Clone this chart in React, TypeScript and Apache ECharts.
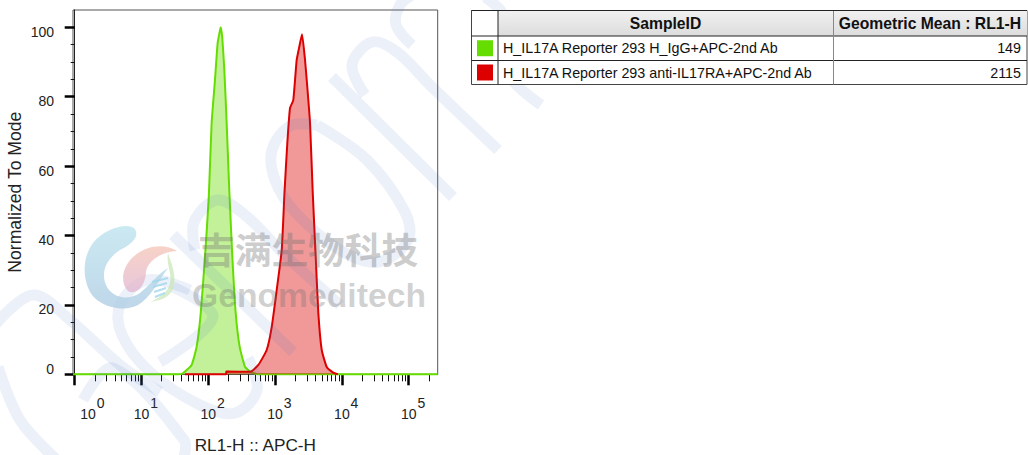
import React, { useEffect, useRef } from "react";
import * as echarts from "echarts";

// Histogram outlines: [log10 intensity, % of mode]
const igGData: [number, number][] = [
  [-0.025, 0], [1.55, 0], [1.62, 0.3], [1.75, 2.7], [1.826, 8], [1.886, 17.5], [1.95, 33.7], [2.007, 51], [2.05, 72.5],
  [2.1, 84.9], [2.14, 95.5], [2.175, 99.2], [2.186, 100], [2.21, 96.8], [2.24, 87.7], [2.275, 72.4], [2.314, 53.1],
  [2.36, 33.8], [2.41, 17.7], [2.47, 7.9], [2.55, 2.1], [2.64, 0.6], [2.72, 0.1], [2.8, 0], [5.434, 0],
];
const antiData: [number, number][] = [
  [1.65, 0], [2.265, 0], [2.27, 0.8], [2.624, 0.7], [2.749, 2.7], [2.874, 7], [2.949, 13.6], [3.024, 24.3], [3.099, 35.8],
  [3.14, 52.2], [3.183, 66.7], [3.223, 76.7], [3.272, 79], [3.323, 90.6], [3.362, 94.4], [3.403, 98], [3.448, 90.6],
  [3.482, 82.8], [3.523, 72.4], [3.563, 52.5], [3.608, 33.8], [3.647, 17.7], [3.698, 7], [3.773, 2.1], [3.871, 0.5], [3.94, 0],
];
const xMajorTicks = [0, 1, 2, 3, 4, 5];
const xLabelSlots = [0.2, 1, 2, 3, 4, 5];
const xMinorMultipliers = [2, 3, 4, 5, 6, 7, 8, 9];
const yMajorTicks = [0, 20, 40, 60, 80, 100];
const yMinorTicks = [5, 10, 15, 25, 30, 35, 45, 50, 55, 65, 70, 75, 85, 90, 95];
const sampleIds = ["H_IL17A Reporter 293 H_IgG+APC-2nd Ab", "H_IL17A Reporter 293 anti-IL17RA+APC-2nd Ab"];
const geoMeans = ["149", "2115"];
const sampleColors = ["#66dd00", "#dd0000"];

const FONT = "'Liberation Sans', Arial, sans-serif";
const xMinorTicks = [0, 1, 2, 3, 4, 5]
  .flatMap((d) => xMinorMultipliers.map((m) => d + Math.log10(m)))
  .filter((v) => v < 5.434);

const bandPaths: [number, number][][] = [
  [[173, 235], [293, 352]],
  [[332, 77], [453, 197]],
  [[365, 95], [352, 65], [372, 42], [397, 52], [430, 85], [498, 150]],
  [[412, 45], [396, 25], [400, 5], [412, -5]],
  [[485, -3], [503, 15], [505, 60], [512, 80], [541, 105]],
  [[317, 125], [367, 160], [405, 212], [408, 240], [378, 262], [340, 250], [295, 212], [275, 180], [272, 150], [290, 126], [317, 125]],
  [[195, 250], [194, 222], [217, 200], [245, 215], [285, 255], [340, 305]],
  [[190, 290], [147, 280], [120, 305], [122, 335], [150, 372], [200, 405], [235, 413], [257, 390], [248, 358]],
  [[173, 287], [213, 317], [160, 362]],
  [[-5, 325], [33, 295], [70, 320], [120, 365], [160, 392]],
  [[-2, 367], [20, 420], [57, 460]],
  [[83, 400], [113, 368], [184, 440], [183, 460]],
];

const crescent = "M135 229C128 222 105 228 93 243C82 258 82 280 92 295C102 308 125 312 138 305C150 298 158 282 168 268C160 272 150 285 140 293C128 301 112 298 106 285C100 270 108 258 120 250C130 245 140 238 135 229Z";
const drop = "M177 251C165 243 145 245 132 258C122 268 120 283 128 291C136 296 146 285 146 272C147 262 160 252 177 251Z";
const leaf = "M168 253C172 265 176 275 174 285C172 295 165 300 150 302C160 298 168 292 170 283C172 272 166 265 168 253Z";
echarts.graphic.registerShape("wmCrescent", echarts.graphic.extendPath(crescent, {}) as any);
echarts.graphic.registerShape("wmDrop", echarts.graphic.extendPath(drop, {}) as any);
echarts.graphic.registerShape("wmLeaf", echarts.graphic.extendPath(leaf, {}) as any);

function buildGraphic() {
  const els: any[] = [];
  bandPaths.forEach((points) => {
    els.push({
      type: "polyline", z: 50, silent: true,
      shape: { points, smooth: points.length > 2 ? 0.35 : 0 },
      style: { stroke: "rgba(70,110,200,0.105)", lineWidth: 11, fill: "none" },
    });
  });
  const grad = (a: string, b: string) => ({ type: "linear", x: 0, y: 0, x2: 0, y2: 1, colorStops: [{ offset: 0, color: a }, { offset: 1, color: b }] });
  els.push({ type: "wmCrescent", z: 51, silent: true, style: { fill: grad("rgba(190,228,238,0.8)", "rgba(175,205,228,0.8)") } });
  els.push({ type: "wmDrop", z: 51, silent: true, style: { fill: grad("rgba(245,195,180,0.75)", "rgba(225,180,208,0.75)") } });
  els.push({ type: "wmLeaf", z: 51, silent: true, style: { fill: "rgba(190,225,170,0.6)" } });
  [280, 285, 290, 295].forEach((y, i) => {
    els.push({ type: "line", z: 51, silent: true, shape: { x1: 152 + i, y1: y + 2, x2: 168 - i, y2: y - 2 }, style: { stroke: "rgba(160,215,235,0.8)", lineWidth: 2 } });
  });
  els.push({
    type: "text", z: 52, silent: true, x: 198, y: 248,
    style: { text: "吉满生物科技", fill: "rgba(110,110,110,0.36)", font: "bold 36.7px 'Noto Sans CJK SC'", textVerticalAlign: "middle" },
  });
  els.push({
    type: "text", z: 52, silent: true, x: 192, y: 295,
    style: { text: "Genomeditech", fill: "rgba(110,110,110,0.33)", font: `bold 33.7px ${FONT}`, textVerticalAlign: "middle" },
  });

  // Results table (opaque, above the watermark)
  const colX = [471.5, 498, 833.5, 1027];
  const rowY = [10.5, 36, 60.5, 84.5];
  const lineStyle = { stroke: "#222", lineWidth: 1 };
  els.push({ type: "rect", z: 60, silent: true, shape: { x: colX[0], y: rowY[0], width: colX[3] - colX[0], height: rowY[3] - rowY[0] }, style: { fill: "#fff", stroke: "#444", lineWidth: 1 } });
  els.push({ type: "rect", z: 60, silent: true, shape: { x: colX[1], y: rowY[0], width: colX[3] - colX[1], height: rowY[1] - rowY[0] }, style: { fill: grad("#f1f1f1", "#dcdcdc") } });
  rowY.slice(1, 3).forEach((y) => els.push({ type: "line", z: 61, silent: true, shape: { x1: colX[0], y1: y, x2: colX[3], y2: y }, style: lineStyle }));
  els.push({ type: "line", z: 61, silent: true, shape: { x1: colX[1], y1: rowY[0], x2: colX[1], y2: rowY[3] }, style: lineStyle });
  els.push({ type: "line", z: 61, silent: true, shape: { x1: colX[2], y1: rowY[0], x2: colX[2], y2: rowY[3] }, style: { stroke: "#888", lineWidth: 1 } });
  els.push({ type: "line", z: 61, silent: true, shape: { x1: colX[0], y1: rowY[0], x2: colX[3], y2: rowY[0] }, style: lineStyle });
  els.push({ type: "text", z: 62, silent: true, x: 665.5, y: 23.5, style: { text: "SampleID", fill: "#111", font: `bold 15.7px ${FONT}`, textAlign: "center", textVerticalAlign: "middle" } });
  els.push({ type: "text", z: 62, silent: true, x: 1021, y: 23.5, style: { text: "Geometric Mean : RL1-H", fill: "#111", font: `bold 15.7px ${FONT}`, textAlign: "right", textVerticalAlign: "middle" } });
  sampleIds.forEach((id, i) => {
    const cy = (rowY[i + 1] + rowY[i + 2]) / 2;
    els.push({ type: "rect", z: 62, silent: true, shape: { x: 477, y: cy - 8, width: 16, height: 16 }, style: { fill: sampleColors[i] } });
    els.push({ type: "text", z: 62, silent: true, x: 503, y: cy, style: { text: id, fill: "#111", font: `14.3px ${FONT}`, textVerticalAlign: "middle" } });
    els.push({ type: "text", z: 62, silent: true, x: 1021, y: cy, style: { text: geoMeans[i], fill: "#111", font: `14.3px ${FONT}`, textAlign: "right", textVerticalAlign: "middle" } });
  });
  return els;
}

export default function App() {
  const ref = useRef<HTMLDivElement>(null);
  useEffect(() => {
    const chart = echarts.init(ref.current!, null, { renderer: "svg" });
    const baseX = { type: "value", min: -0.0254, max: 5.434, position: "bottom", splitLine: { show: false } };
    const baseY = { type: "value", min: 0, max: 105, position: "left", splitLine: { show: false } };
    chart.setOption({
      animation: false,
      backgroundColor: "#fff",
      textStyle: { fontFamily: FONT },
      grid: { left: 73, right: 590.3, top: 10, bottom: 80.7, show: true, borderColor: "#555", borderWidth: 1, backgroundColor: "transparent", outerBoundsMode: "none" },
      xAxis: [
        {
          ...baseX,
          name: "RL1-H :: APC-H", nameLocation: "middle", nameGap: 62,
          nameTextStyle: { fontFamily: FONT, fontSize: 17.2, color: "#222" },
          axisLine: { show: true, lineStyle: { color: "#555", width: 1 } },
          axisTick: { show: true, length: 11, customValues: xMajorTicks, lineStyle: { color: "#000", width: 2.5 } },
          axisLabel: {
            show: true, margin: 21.5, hideOverlap: false, showMinLabel: true, showMaxLabel: true,
            customValues: xLabelSlots,
            formatter: (v: number) => `{pad|}{b|10}{s|${Math.floor(v)}}`,
            rich: {
              pad: { width: 9, lineHeight: 25 },
              b: { fontFamily: FONT, fontSize: 14, color: "#222", verticalAlign: "bottom", lineHeight: 16, width: 15, align: "center" },
              s: { fontFamily: FONT, fontSize: 14, color: "#222", verticalAlign: "top", lineHeight: 16, width: 9, align: "right" },
            },
          },
        },
        {
          ...baseX,
          axisLine: { show: false },
          axisLabel: { show: false },
          axisTick: { show: true, length: 7, customValues: xMinorTicks, lineStyle: { color: "#111", width: 1 } },
        },
      ],
      yAxis: [
        {
          ...baseY,
          name: "Normalized To Mode", nameLocation: "middle", nameGap: 49,
          nameTextStyle: { fontFamily: FONT, fontSize: 17.6, color: "#222" },
          axisLine: { show: true, lineStyle: { color: "#222", width: 1 } },
          axisTick: { show: true, length: 10, customValues: yMajorTicks, lineStyle: { color: "#000", width: 2.5 } },
          axisLabel: {
            show: true, margin: 19, customValues: yMajorTicks,
            formatter: (v: number) => (v === 0 ? `{z|${v}}` : `{n|${v}}`),
            rich: {
              n: { fontFamily: FONT, fontSize: 14, color: "#222", padding: [9, 0, 0, 0] },
              z: { fontFamily: FONT, fontSize: 14, color: "#222", padding: [0, 0, 10, 0] },
            },
          },
        },
        {
          ...baseY,
          axisLine: { show: false },
          axisLabel: { show: false },
          axisTick: { show: true, length: 4, customValues: yMinorTicks, lineStyle: { color: "#111", width: 1 } },
        },
      ],
      series: [
        {
          type: "line", name: sampleIds[0], data: igGData, symbol: "none", smooth: 0.15, z: 3, clip: false,
          lineStyle: { color: sampleColors[0], width: 2 },
          areaStyle: { color: sampleColors[0], opacity: 0.4 },
        },
        {
          type: "line", name: sampleIds[1], data: antiData, symbol: "none", smooth: 0.15, z: 4, clip: false,
          lineStyle: { color: sampleColors[1], width: 2 },
          areaStyle: { color: sampleColors[1], opacity: 0.4 },
        },
      ],
      graphic: { elements: buildGraphic() },
    });
    return () => chart.dispose();
  }, []);
  return <div ref={ref} style={{ position: "fixed", left: 0, top: 0, width: 1028, height: 455 }} />;
}
